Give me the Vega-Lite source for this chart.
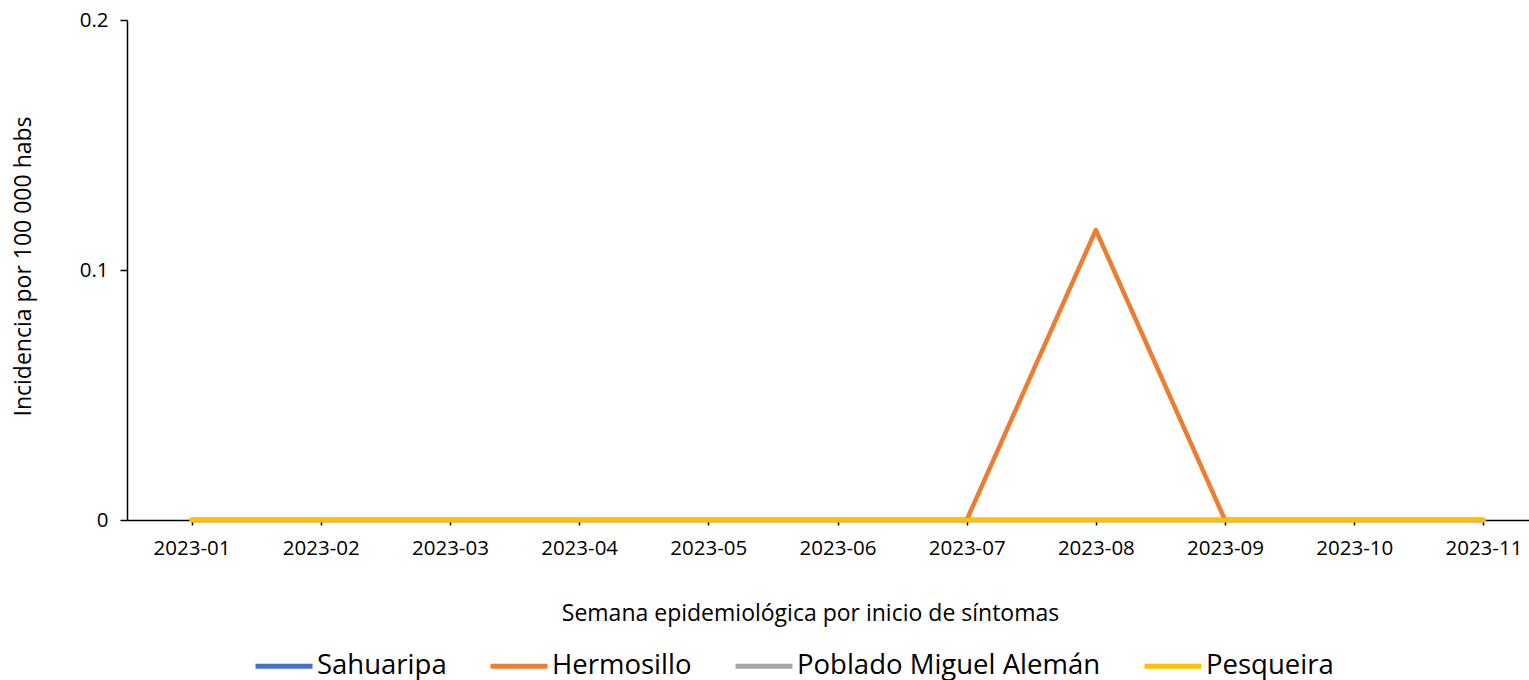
{
  "$schema": "https://vega.github.io/schema/vega-lite/v6.json",
  "autosize": {"type": "none"},
  "padding": {"left": 127, "top": 20, "right": 0, "bottom": 170},
  "width": 1421,
  "height": 500,
  "background": "white",
  "config": {
    "font": "Open Sans",
    "view": {"stroke": null}
  },
  "data": {
    "values": [
      {"semana": "2023-01", "municipio": "Sahuaripa", "incidencia": 0},
      {"semana": "2023-02", "municipio": "Sahuaripa", "incidencia": 0},
      {"semana": "2023-03", "municipio": "Sahuaripa", "incidencia": 0},
      {"semana": "2023-04", "municipio": "Sahuaripa", "incidencia": 0},
      {"semana": "2023-05", "municipio": "Sahuaripa", "incidencia": 0},
      {"semana": "2023-06", "municipio": "Sahuaripa", "incidencia": 0},
      {"semana": "2023-07", "municipio": "Sahuaripa", "incidencia": 0},
      {"semana": "2023-08", "municipio": "Sahuaripa", "incidencia": 0},
      {"semana": "2023-09", "municipio": "Sahuaripa", "incidencia": 0},
      {"semana": "2023-10", "municipio": "Sahuaripa", "incidencia": 0},
      {"semana": "2023-11", "municipio": "Sahuaripa", "incidencia": 0},
      {"semana": "2023-01", "municipio": "Hermosillo", "incidencia": 0},
      {"semana": "2023-02", "municipio": "Hermosillo", "incidencia": 0},
      {"semana": "2023-03", "municipio": "Hermosillo", "incidencia": 0},
      {"semana": "2023-04", "municipio": "Hermosillo", "incidencia": 0},
      {"semana": "2023-05", "municipio": "Hermosillo", "incidencia": 0},
      {"semana": "2023-06", "municipio": "Hermosillo", "incidencia": 0},
      {"semana": "2023-07", "municipio": "Hermosillo", "incidencia": 0},
      {"semana": "2023-08", "municipio": "Hermosillo", "incidencia": 0.116},
      {"semana": "2023-09", "municipio": "Hermosillo", "incidencia": 0},
      {"semana": "2023-10", "municipio": "Hermosillo", "incidencia": 0},
      {"semana": "2023-11", "municipio": "Hermosillo", "incidencia": 0},
      {"semana": "2023-01", "municipio": "Poblado Miguel Alemán", "incidencia": 0},
      {"semana": "2023-02", "municipio": "Poblado Miguel Alemán", "incidencia": 0},
      {"semana": "2023-03", "municipio": "Poblado Miguel Alemán", "incidencia": 0},
      {"semana": "2023-04", "municipio": "Poblado Miguel Alemán", "incidencia": 0},
      {"semana": "2023-05", "municipio": "Poblado Miguel Alemán", "incidencia": 0},
      {"semana": "2023-06", "municipio": "Poblado Miguel Alemán", "incidencia": 0},
      {"semana": "2023-07", "municipio": "Poblado Miguel Alemán", "incidencia": 0},
      {"semana": "2023-08", "municipio": "Poblado Miguel Alemán", "incidencia": 0},
      {"semana": "2023-09", "municipio": "Poblado Miguel Alemán", "incidencia": 0},
      {"semana": "2023-10", "municipio": "Poblado Miguel Alemán", "incidencia": 0},
      {"semana": "2023-11", "municipio": "Poblado Miguel Alemán", "incidencia": 0},
      {"semana": "2023-01", "municipio": "Pesqueira", "incidencia": 0},
      {"semana": "2023-02", "municipio": "Pesqueira", "incidencia": 0},
      {"semana": "2023-03", "municipio": "Pesqueira", "incidencia": 0},
      {"semana": "2023-04", "municipio": "Pesqueira", "incidencia": 0},
      {"semana": "2023-05", "municipio": "Pesqueira", "incidencia": 0},
      {"semana": "2023-06", "municipio": "Pesqueira", "incidencia": 0},
      {"semana": "2023-07", "municipio": "Pesqueira", "incidencia": 0},
      {"semana": "2023-08", "municipio": "Pesqueira", "incidencia": 0},
      {"semana": "2023-09", "municipio": "Pesqueira", "incidencia": 0},
      {"semana": "2023-10", "municipio": "Pesqueira", "incidencia": 0},
      {"semana": "2023-11", "municipio": "Pesqueira", "incidencia": 0}
    ]
  },
  "mark": {"type": "line", "strokeWidth": 4.5, "strokeCap": "round", "strokeJoin": "round"},
  "encoding": {
    "x": {
      "field": "semana",
      "type": "ordinal",
      "scale": {"type": "point", "padding": 0.5},
      "axis": {
        "title": "Semana epidemiológica por inicio de síntomas",
        "titleFontSize": 23,
        "titleFontWeight": "normal",
        "titleColor": "black",
        "titleX": 683,
        "titleY": 93,
        "titleAnchor": "middle",
        "titleAlign": "center",
        "titleBaseline": "middle",
        "labelAngle": 0,
        "labelFontSize": 20.5,
        "labelColor": "black",
        "labelPadding": 13,
        "domainColor": "black",
        "domainWidth": 1.5,
        "tickColor": "black",
        "tickSize": 5,
        "tickWidth": 1.5,
        "grid": false
      }
    },
    "y": {
      "field": "incidencia",
      "type": "quantitative",
      "scale": {"domain": [0, 0.2], "nice": false},
      "axis": {
        "title": "Incidencia por 100 000 habs",
        "titleFontSize": 23,
        "titleFontWeight": "normal",
        "titleColor": "black",
        "titleAngle": -90,
        "titleX": -104,
        "titleY": 246,
        "titleAlign": "center",
        "titleBaseline": "middle",
        "values": [0, 0.1, 0.2],
        "format": ".1~f",
        "labelFontSize": 20.5,
        "labelColor": "black",
        "labelPadding": 12,
        "domainColor": "black",
        "domainWidth": 1.5,
        "tickColor": "black",
        "tickSize": 7,
        "tickWidth": 1.5,
        "grid": false
      }
    },
    "color": {
      "field": "municipio",
      "type": "nominal",
      "sort": ["Sahuaripa", "Hermosillo", "Poblado Miguel Alemán", "Pesqueira"],
      "scale": {
        "domain": ["Sahuaripa", "Hermosillo", "Poblado Miguel Alemán", "Pesqueira"],
        "range": ["#4472C4", "#ED7D31", "#A5A5A5", "#FFC000"]
      },
      "legend": {
        "title": null,
        "orient": "none",
        "direction": "horizontal",
        "columns": 4,
        "legendX": 126,
        "legendY": 615,
        "symbolType": "stroke",
        "symbolSize": 3249,
        "symbolStrokeWidth": 5,
        "labelFontSize": 27.5,
        "labelColor": "black",
        "labelOffset": 2,
        "columnPadding": 33,
        "labelLimit": 500
      }
    },
    "order": {"field": "municipio"}
  }
}
